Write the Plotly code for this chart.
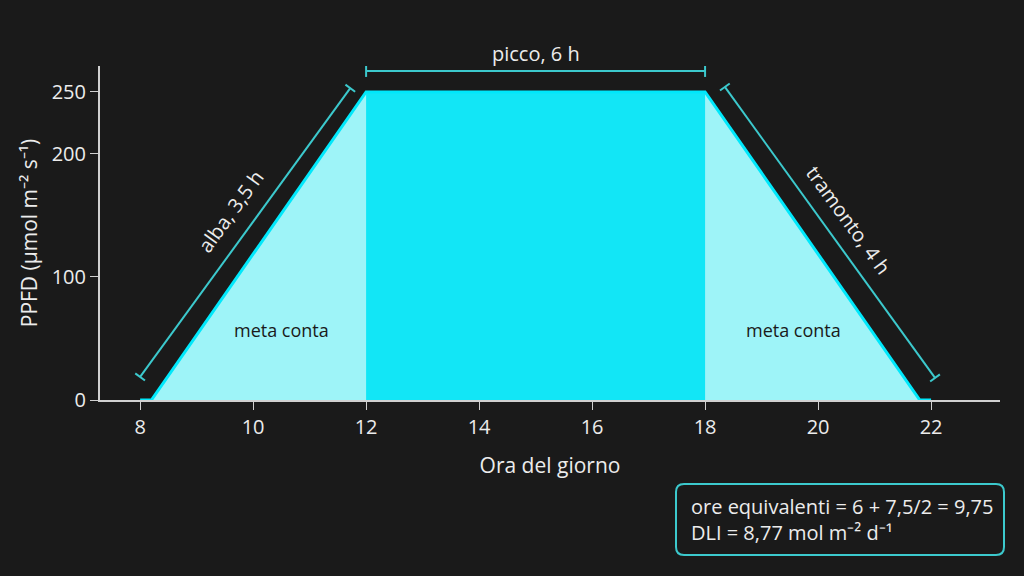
import numpy as np
import plotly.graph_objects as go

# photoperiod profile
hours = [8.2, 12, 18, 21.8]
ppfd = [0, 250, 250, 0]

# bracket end points (hour, PPFD)
alba_bracket = [(8.0, 18.7), (11.72, 253)]
picco_bracket = [(12, 267), (18, 267)]
tramonto_bracket = [(18.35, 254), (22.07, 17.9)]

x_ticks = [8, 10, 12, 14, 16, 18, 20, 22]
y_ticks = [0, 100, 200, 250]

BG = "#1a1a1a"
FG = "#ececec"
EDGE = "#00e8fb"
RAMP = "#9ef4f8"
PEAK = "#12e6f6"
BRACKET = "#3cc9cd"
FONT = "Open Sans"

X_RANGE = [7.29, 23.22]
Y_RANGE = [0, 271]
M_L, M_R, M_T, M_B = 100, 24, 66, 176
PX_X = (1024 - M_L - M_R) / (X_RANGE[1] - X_RANGE[0])
PX_Y = (576 - M_T - M_B) / (Y_RANGE[1] - Y_RANGE[0])

fig = go.Figure()

# whole trapezoid, light cyan
fig.add_trace(go.Scatter(x=hours + [hours[0]], y=ppfd + [ppfd[0]], fill="toself",
                         fillcolor=RAMP, line=dict(width=0), mode="lines",
                         hoverinfo="skip"))
# plateau, saturated cyan
fig.add_trace(go.Scatter(x=[hours[1], hours[1], hours[2], hours[2], hours[1]],
                         y=[0, ppfd[1], ppfd[2], 0, 0], fill="toself",
                         fillcolor=PEAK, line=dict(width=0), mode="lines",
                         hoverinfo="skip"))
# outline
fig.add_trace(go.Scatter(x=[x_ticks[0]] + hours + [x_ticks[-1]], y=[0] + ppfd + [0],
                         mode="lines", line=dict(color=EDGE, width=3),
                         hoverinfo="skip"))


def bracket(p0, p1, cap_px=6):
    (x0, y0), (x1, y1) = p0, p1
    fig.add_shape(type="line", x0=x0, y0=y0, x1=x1, y1=y1,
                  line=dict(color=BRACKET, width=2))
    # perpendicular caps, worked out in pixel space
    dx, dy = (x1 - x0) * PX_X, (y1 - y0) * PX_Y
    n = np.hypot(dx, dy)
    px, py = -dy / n * cap_px, dx / n * cap_px
    for (cx, cy) in (p0, p1):
        fig.add_shape(type="line", x0=cx - px / PX_X, y0=cy - py / PX_Y,
                      x1=cx + px / PX_X, y1=cy + py / PX_Y,
                      line=dict(color=BRACKET, width=2))


bracket(*alba_bracket)
bracket(*picco_bracket)
bracket(*tramonto_bracket)

fig.add_annotation(x=15, y=picco_bracket[0][1], text="picco, 6 h", showarrow=False,
                   yanchor="bottom", yshift=2, font=dict(size=20, color=FG))
fig.add_annotation(x=9.6, y=153, text="alba, 3,5 h", showarrow=False, textangle=-54,
                   font=dict(size=20, color=FG))
fig.add_annotation(x=20.55, y=146, text="tramonto, 4 h", showarrow=False, textangle=54,
                   font=dict(size=20, color=FG))
fig.add_annotation(x=10.5, y=57, text="meta conta", showarrow=False,
                   font=dict(size=18, color="#1a1a1a"))
fig.add_annotation(x=19.56, y=57, text="meta conta", showarrow=False,
                   font=dict(size=18, color="#1a1a1a"))

# summary box
bx0, bx1 = (676 - M_L) / 900, (1004 - M_L) / 900
by0, by1 = (400 - 555) / 334, (400 - 484) / 334
rx, ry = 8 / 900, 8 / 334
path = (f"M {bx0 + rx},{by1} L {bx1 - rx},{by1} Q {bx1},{by1} {bx1},{by1 - ry} "
        f"L {bx1},{by0 + ry} Q {bx1},{by0} {bx1 - rx},{by0} L {bx0 + rx},{by0} "
        f"Q {bx0},{by0} {bx0},{by0 + ry} L {bx0},{by1 - ry} Q {bx0},{by1} {bx0 + rx},{by1} Z")
fig.add_shape(type="path", path=path, xref="paper", yref="paper",
              line=dict(color=BRACKET, width=2), fillcolor=BG)
fig.add_annotation(xref="paper", yref="paper", x=(689 - M_L) / 900, y=(by0 + by1) / 2,
                   xanchor="left", yanchor="middle", align="left", showarrow=False,
                   text="ore equivalenti = 6 + 7,5/2 = 9,75<br>DLI = 8,77 mol m⁻² d⁻¹",
                   font=dict(size=20, color=FG))

fig.update_layout(
    width=1024, height=576, showlegend=False,
    paper_bgcolor=BG, plot_bgcolor=BG,
    margin=dict(l=M_L, r=M_R, t=M_T, b=M_B),
    font=dict(family=FONT, color=FG, size=20),
)
fig.update_xaxes(range=X_RANGE, tickvals=x_ticks, showgrid=False, zeroline=False,
                 showline=True, linecolor="#d0d0d0", linewidth=2, ticks="outside",
                 ticklen=8, tickcolor="#d0d0d0", tickfont=dict(size=20, color=FG),
                 title=dict(text="Ora del giorno", font=dict(size=21, color=FG), standoff=19))
fig.update_yaxes(range=Y_RANGE, tickvals=y_ticks, showgrid=False, zeroline=False,
                 showline=True, linecolor="#d0d0d0", linewidth=2, ticks="outside",
                 ticklen=8, tickcolor="#d0d0d0", tickfont=dict(size=20, color=FG),
                 title=dict(text="PPFD (µmol m⁻² s⁻¹)", font=dict(size=21, color=FG), standoff=8))

# drop the default body margin so the 1024x576 figure fills the window
fig.write_html("out.html", config={"displayModeBar": False},
               post_script="document.body.style.margin='0';")
